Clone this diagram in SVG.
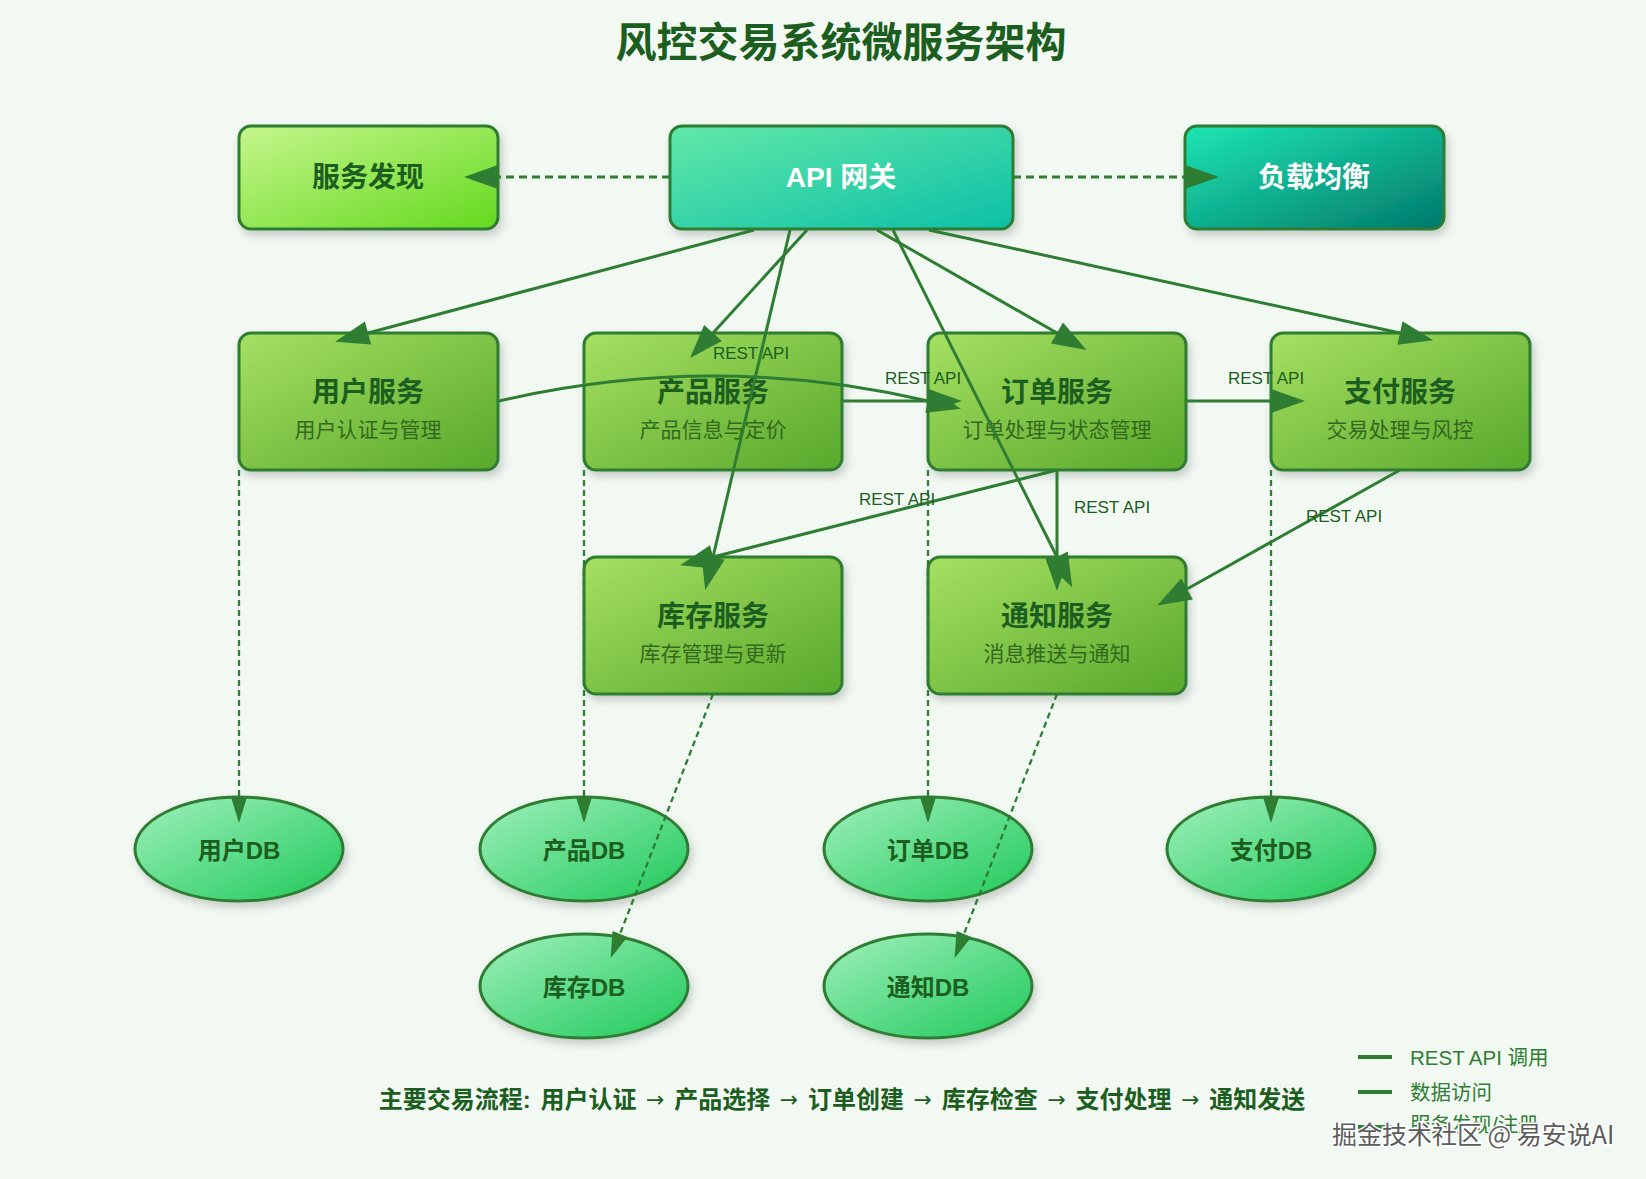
<svg xmlns="http://www.w3.org/2000/svg" width="1646" height="1179" viewBox="0 0 1646 1179">
<defs>
<style>
text{font-family:"Liberation Sans","Noto Sans CJK SC",sans-serif;}
.title{font-size:41px;font-weight:bold;fill:#1b5e20;text-anchor:middle;}
.nt{font-size:28px;font-weight:bold;fill:#1b5e20;text-anchor:middle;dominant-baseline:central;}
.ntw{font-size:28px;font-weight:bold;fill:#ffffff;text-anchor:middle;dominant-baseline:central;}
.ns{font-size:21px;fill:#33691e;text-anchor:middle;dominant-baseline:central;}
.dbt{font-size:24px;font-weight:bold;fill:#1b5e20;text-anchor:middle;dominant-baseline:central;}
.el{font-size:17px;fill:#1b5e20;text-anchor:middle;dominant-baseline:central;}
.foot{font-size:24px;font-weight:bold;fill:#1b5e20;text-anchor:middle;dominant-baseline:central;word-spacing:3px;}
.arr{font-family:"DejaVu Sans",sans-serif;font-weight:normal;font-size:22px;}
.leg{font-size:20.5px;fill:#2e7d32;dominant-baseline:central;}
.box{stroke:#2e7d32;stroke-width:3;filter:url(#sh);}
.solid{fill:none;stroke:#2e7d32;stroke-width:3;marker-end:url(#ah);}
.dash{fill:none;stroke:#2e7d32;stroke-width:3;stroke-dasharray:8,5;marker-end:url(#ah);}
.dbl{fill:none;stroke:#2e7d32;stroke-width:2.3;stroke-dasharray:6,4;marker-end:url(#ahs);}
.legl{stroke:#2e7d32;stroke-width:4;}
</style>
<linearGradient id="gDisc" x1="0" y1="0" x2="1" y2="1"><stop offset="0" stop-color="#c6f68d"/><stop offset="1" stop-color="#64d91e"/></linearGradient>
<linearGradient id="gGw" x1="0" y1="0" x2="1" y2="1"><stop offset="0" stop-color="#62e8a9"/><stop offset="1" stop-color="#0cc0a6"/></linearGradient>
<linearGradient id="gLb" x1="0" y1="0" x2="1" y2="1"><stop offset="0" stop-color="#1ee6b4"/><stop offset="1" stop-color="#00796b"/></linearGradient>
<linearGradient id="gSv" x1="0" y1="0" x2="1" y2="1"><stop offset="0" stop-color="#a6e062"/><stop offset="1" stop-color="#58a82b"/></linearGradient>
<linearGradient id="gDb" x1="0" y1="0" x2="1" y2="1"><stop offset="0" stop-color="#a0f0bc"/><stop offset="1" stop-color="#1ec95a"/></linearGradient>
<filter id="sh" x="-20%" y="-20%" width="140%" height="150%"><feDropShadow dx="3" dy="5" stdDeviation="4" flood-color="#000" flood-opacity="0.18"/></filter>
<marker id="ah" markerUnits="userSpaceOnUse" markerWidth="40" markerHeight="30" refX="0" refY="0" orient="auto" overflow="visible"><path d="M0,-12 L34,0 L0,12 Z" fill="#2e7d32"/></marker>
<marker id="ahs" markerUnits="userSpaceOnUse" markerWidth="30" markerHeight="20" refX="0" refY="0" orient="auto" overflow="visible"><path d="M0,-8 L26,0 L0,8 Z" fill="#2e7d32"/></marker>
</defs>
<rect x="0" y="0" width="1646" height="1179" fill="#f2f9f3"/>
<text class="title" x="841" y="57">风控交易系统微服务架构</text>

<g id="node-discovery"><rect class="box" x="239" y="126" width="259" height="103" rx="12" fill="url(#gDisc)"/><text class="nt" x="368" y="177">服务发现</text></g>
<g id="node-gateway"><rect class="box" x="670" y="126" width="343" height="103" rx="12" fill="url(#gGw)"/><text class="ntw" x="841" y="177">API 网关</text></g>
<g id="node-lb"><rect class="box" x="1185" y="126" width="259" height="103" rx="12" fill="url(#gLb)"/><text class="ntw" x="1314" y="177">负载均衡</text></g>

<g id="node-user"><rect class="box" x="239" y="333" width="259" height="137" rx="12" fill="url(#gSv)"/><text class="nt" x="368" y="392">用户服务</text><text class="ns" x="368" y="429">用户认证与管理</text></g>
<g id="node-product"><rect class="box" x="584" y="333" width="258" height="137" rx="12" fill="url(#gSv)"/><text class="nt" x="713" y="392">产品服务</text><text class="ns" x="713" y="429">产品信息与定价</text></g>
<g id="node-order"><rect class="box" x="928" y="333" width="258" height="137" rx="12" fill="url(#gSv)"/><text class="nt" x="1057" y="392">订单服务</text><text class="ns" x="1057" y="429">订单处理与状态管理</text></g>
<g id="node-payment"><rect class="box" x="1271" y="333" width="259" height="137" rx="12" fill="url(#gSv)"/><text class="nt" x="1400" y="392">支付服务</text><text class="ns" x="1400" y="429">交易处理与风控</text></g>
<g id="node-inventory"><rect class="box" x="584" y="557" width="258" height="137" rx="12" fill="url(#gSv)"/><text class="nt" x="713" y="616">库存服务</text><text class="ns" x="713" y="653">库存管理与更新</text></g>
<g id="node-notify"><rect class="box" x="928" y="557" width="258" height="137" rx="12" fill="url(#gSv)"/><text class="nt" x="1057" y="616">通知服务</text><text class="ns" x="1057" y="653">消息推送与通知</text></g>

<g id="node-userdb"><ellipse class="box" cx="239" cy="849" rx="104" ry="52" fill="url(#gDb)"/><text class="dbt" x="239" y="850">用户DB</text></g>
<g id="node-productdb"><ellipse class="box" cx="584" cy="849" rx="104" ry="52" fill="url(#gDb)"/><text class="dbt" x="584" y="850">产品DB</text></g>
<g id="node-orderdb"><ellipse class="box" cx="928" cy="849" rx="104" ry="52" fill="url(#gDb)"/><text class="dbt" x="928" y="850">订单DB</text></g>
<g id="node-paymentdb"><ellipse class="box" cx="1271" cy="849" rx="104" ry="52" fill="url(#gDb)"/><text class="dbt" x="1271" y="850">支付DB</text></g>
<g id="node-inventorydb"><ellipse class="box" cx="584" cy="986" rx="104" ry="52" fill="url(#gDb)"/><text class="dbt" x="584" y="987">库存DB</text></g>
<g id="node-notifydb"><ellipse class="box" cx="928" cy="986" rx="104" ry="52" fill="url(#gDb)"/><text class="dbt" x="928" y="987">通知DB</text></g>

<g id="connectors">
<line class="dash" x1="670" y1="177" x2="498" y2="177"/>
<line class="dash" x1="1013" y1="177" x2="1185" y2="177"/>
<line class="solid" x1="754" y1="230" x2="368" y2="333"/>
<line class="solid" x1="807" y1="230" x2="713" y2="333"/>
<line class="solid" x1="790" y1="230" x2="713" y2="557"/>
<line class="solid" x1="877" y1="230" x2="1057" y2="333"/>
<line class="solid" x1="893" y1="230" x2="1057" y2="557"/>
<line class="solid" x1="929" y1="230" x2="1400" y2="333"/>
<path class="solid" d="M499,401 Q713,351 928,401"/>
<line class="solid" x1="842" y1="401" x2="928" y2="401"/>
<line class="solid" x1="1186" y1="401" x2="1271" y2="401"/>
<line class="solid" x1="1057" y1="470" x2="713" y2="557"/>
<line class="solid" x1="1057" y1="470" x2="1057" y2="557"/>
<line class="solid" x1="1400" y1="470" x2="1187" y2="589"/>
<line class="dbl" x1="239" y1="470" x2="239" y2="797"/>
<line class="dbl" x1="584" y1="470" x2="584" y2="797"/>
<line class="dbl" x1="928" y1="470" x2="928" y2="797"/>
<line class="dbl" x1="1271" y1="470" x2="1271" y2="797"/>
<line class="dbl" x1="713" y1="694" x2="620" y2="934"/>
<line class="dbl" x1="1057" y1="694" x2="964" y2="934"/>
<text class="el" x="751" y="353">REST API</text>
<text class="el" x="923" y="378">REST API</text>
<text class="el" x="1266" y="378">REST API</text>
<text class="el" x="897" y="499">REST API</text>
<text class="el" x="1112" y="507">REST API</text>
<text class="el" x="1344" y="516">REST API</text>
</g>

<text class="foot" x="842" y="1099">主要交易流程: 用户认证 <tspan class="arr">→</tspan> 产品选择 <tspan class="arr">→</tspan> 订单创建 <tspan class="arr">→</tspan> 库存检查 <tspan class="arr">→</tspan> 支付处理 <tspan class="arr">→</tspan> 通知发送</text>

<g id="legend">
<line class="legl" x1="1358" y1="1057" x2="1392" y2="1057"/>
<text class="leg" x="1410" y="1057">REST API 调用</text>
<line class="legl" x1="1358" y1="1092" x2="1392" y2="1092"/>
<text class="leg" x="1410" y="1092">数据访问</text>
<line class="legl" x1="1358" y1="1127" x2="1392" y2="1127"/>
<text class="leg" x="1410" y="1124">服务发现/注册</text>
</g>
<text x="1332" y="1133" style="font-size:25px;fill:#5c5c5c;stroke:#ffffff;stroke-width:3;paint-order:stroke;dominant-baseline:central;font-family:'Noto Sans CJK SC',sans-serif;">掘金技术社区 @ 易安说AI</text>
</svg>
